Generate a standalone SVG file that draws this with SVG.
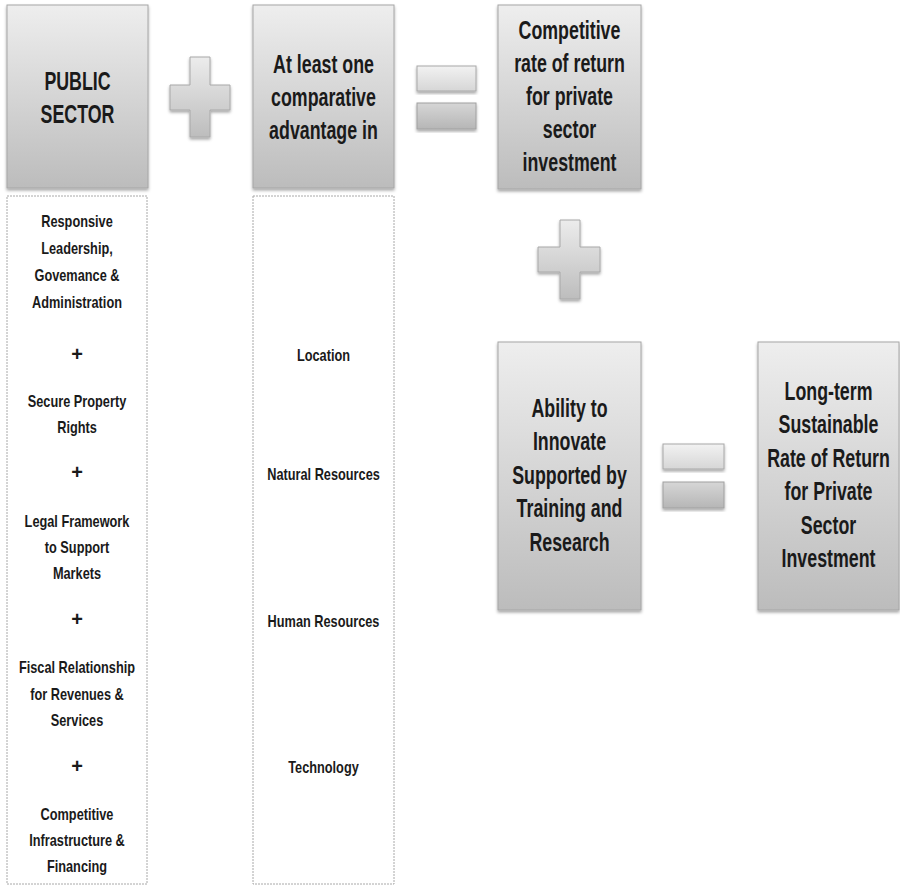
<svg xmlns="http://www.w3.org/2000/svg" width="900" height="886" viewBox="0 0 900 886">
<defs>
<linearGradient id="gBox" x1="0" y1="0" x2="0" y2="1">
<stop offset="0" stop-color="#eeeeee"/>
<stop offset="1" stop-color="#bcbcbc"/>
</linearGradient>
<linearGradient id="gTop" x1="0" y1="0" x2="0" y2="1">
<stop offset="0" stop-color="#f2f2f2"/>
<stop offset="1" stop-color="#d6d6d6"/>
</linearGradient>
<linearGradient id="gBot" x1="0" y1="0" x2="0" y2="1">
<stop offset="0" stop-color="#d6d6d6"/>
<stop offset="1" stop-color="#b6b6b6"/>
</linearGradient>
<linearGradient id="gPlus" x1="0" y1="0" x2="0" y2="1">
<stop offset="0" stop-color="#ececec"/>
<stop offset="1" stop-color="#bdbdbd"/>
</linearGradient>
<filter id="sh" x="-15%" y="-10%" width="130%" height="125%">
<feDropShadow dx="0" dy="2" stdDeviation="1.5" flood-color="#000" flood-opacity="0.35"/>
</filter>
</defs>
<style>
.box{fill:url(#gBox);stroke:#a6a6a6;stroke-width:1;filter:url(#sh)}
.col{fill:#ffffff;stroke:#a8a8a8;stroke-width:1;stroke-dasharray:2 1}
.plus{fill:url(#gPlus);stroke:#a8a8a8;stroke-width:1;filter:url(#sh)}
.eqT{fill:url(#gTop);stroke:#a8a8a8;stroke-width:1;filter:url(#sh)}
.eqB{fill:url(#gBot);stroke:#a0a0a0;stroke-width:1;filter:url(#sh)}
.big{font-family:"Liberation Sans",Arial,sans-serif;font-weight:bold;font-size:26px;fill:#1a1a1a;text-anchor:middle}
.sm{font-family:"Liberation Sans",Arial,sans-serif;font-weight:bold;font-size:17px;fill:#1a1a1a;text-anchor:middle}
.op{font-family:"Liberation Sans",Arial,sans-serif;font-weight:bold;font-size:20px;fill:#1a1a1a;text-anchor:middle}
</style>

<g id="public-sector">
<rect class="box" x="7" y="5" width="141" height="183"/>
<g transform="translate(77.5 0) scale(0.685 1)">
<text class="big"><tspan x="0" y="90">PUBLIC</tspan><tspan x="0" y="123">SECTOR</tspan></text>
</g>
</g>

<g id="public-sector-list">
<rect class="col" x="7" y="196" width="140" height="688"/>
<g transform="translate(77 0) scale(0.75 1)">
<text class="sm"><tspan x="0" y="227">Responsive</tspan><tspan x="0" y="254">Leadership,</tspan><tspan x="0" y="281">Govemance &amp;</tspan><tspan x="0" y="308">Administration</tspan></text>
<text class="sm"><tspan x="0" y="407">Secure Property</tspan><tspan x="0" y="433">Rights</tspan></text>
<text class="sm"><tspan x="0" y="527">Legal Framework</tspan><tspan x="0" y="553">to Support</tspan><tspan x="0" y="579">Markets</tspan></text>
<text class="sm"><tspan x="0" y="673">Fiscal Relationship</tspan><tspan x="0" y="700">for Revenues &amp;</tspan><tspan x="0" y="726">Services</tspan></text>
<text class="sm"><tspan x="0" y="820">Competitive</tspan><tspan x="0" y="846">Infrastructure &amp;</tspan><tspan x="0" y="872">Financing</tspan></text>
</g>
<text class="op" x="77" y="361">+</text>
<text class="op" x="77" y="479">+</text>
<text class="op" x="77" y="626">+</text>
<text class="op" x="77" y="773">+</text>
</g>

<g id="plus-1">
<path class="plus" d="M190,57 H210 V85 H230 V110 H210 V137 H190 V110 H170 V85 H190 Z"/>
</g>

<g id="comparative-advantage">
<rect class="box" x="253" y="5" width="141" height="183"/>
<g transform="translate(323.5 0) scale(0.685 1)">
<text class="big"><tspan x="0" y="73">At least one</tspan><tspan x="0" y="106">comparative</tspan><tspan x="0" y="139">advantage in</tspan></text>
</g>
</g>

<g id="comparative-list">
<rect class="col" x="253" y="196" width="141" height="688"/>
<g transform="translate(323.5 0) scale(0.75 1)">
<text class="sm" x="0" y="361">Location</text>
<text class="sm" x="0" y="480">Natural Resources</text>
<text class="sm" x="0" y="627">Human Resources</text>
<text class="sm" x="0" y="773">Technology</text>
</g>
</g>

<g id="equals-1">
<rect class="eqT" x="417" y="66" width="59" height="25"/>
<rect class="eqB" x="417" y="103" width="59" height="26"/>
</g>

<g id="competitive-rate">
<rect class="box" x="498" y="5" width="143" height="184"/>
<g transform="translate(569.5 0) scale(0.685 1)">
<text class="big"><tspan x="0" y="39.5">Competitive</tspan><tspan x="0" y="72.5">rate of return</tspan><tspan x="0" y="105.5">for private</tspan><tspan x="0" y="138.5">sector</tspan><tspan x="0" y="171.5">investment</tspan></text>
</g>
</g>

<g id="plus-2">
<path class="plus" d="M560,220 H580 V247 H600 V272 H580 V299 H560 V272 H538 V247 H560 Z"/>
</g>

<g id="ability-to-innovate">
<rect class="box" x="498" y="342" width="143" height="268"/>
<g transform="translate(569.5 0) scale(0.685 1)">
<text class="big"><tspan x="0" y="417">Ability to</tspan><tspan x="0" y="450.5">Innovate</tspan><tspan x="0" y="484">Supported by</tspan><tspan x="0" y="517.5">Training and</tspan><tspan x="0" y="551">Research</tspan></text>
</g>
</g>

<g id="equals-2">
<rect class="eqT" x="663" y="444" width="61" height="25"/>
<rect class="eqB" x="663" y="482" width="61" height="26"/>
</g>

<g id="long-term-return">
<rect class="box" x="758" y="342" width="141" height="268"/>
<g transform="translate(828.5 0) scale(0.685 1)">
<text class="big"><tspan x="0" y="400">Long-term</tspan><tspan x="0" y="433.5">Sustainable</tspan><tspan x="0" y="467">Rate of Return</tspan><tspan x="0" y="500.5">for Private</tspan><tspan x="0" y="534">Sector</tspan><tspan x="0" y="567.5">Investment</tspan></text>
</g>
</g>

<g id="connectors"></g>
</svg>
